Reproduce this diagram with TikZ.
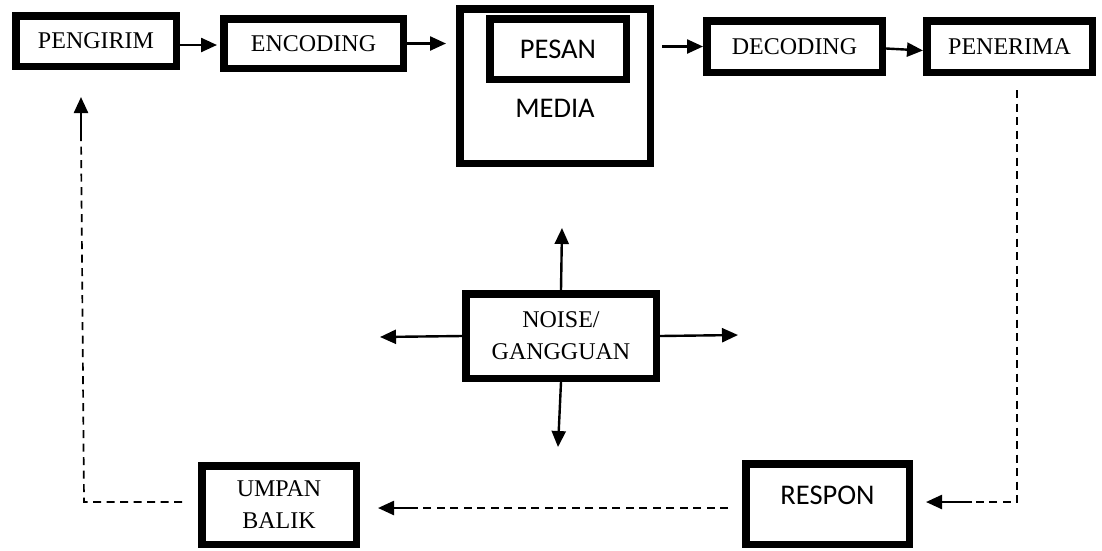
\documentclass[tikz,border=0pt]{standalone}
\usepackage{fontspec}
\setmainfont{Liberation Serif}
\newfontfamily\calib{Carlito}
\usetikzlibrary{arrows.meta}
\begin{document}
\begin{tikzpicture}[x=1pt,y=-1pt,
  box/.style={draw, line width=7.5pt, inner sep=0pt, align=center,
    font=\fontsize{24}{32}\selectfont},
  sbox/.style={box, font=\calib\fontsize{28.5}{32}\selectfont},
  arr/.style={line width=2.4pt, -{Triangle[length=16pt,width=14pt]}},
  dashline/.style={line width=1.7pt, dash pattern=on 8pt off 5.5pt},
]
\useasboundingbox (0,0) rectangle (1102,550);

% top row
\node[box, minimum width=160.5pt, minimum height=50.5pt] (pengirim) at (96,41) {PENGIRIM};
\node[box, minimum width=179.5pt, minimum height=49.5pt] (encoding) at (313.5,43.5) {ENCODING};
\node[sbox, minimum width=190.5pt, text height=108.25pt, text depth=46.25pt] (media) at (555,86) {MEDIA};
\node[sbox, minimum width=136.5pt, minimum height=60.5pt] (pesan) at (558,49) {PESAN};
\node[box, minimum width=175.5pt, minimum height=51.5pt] (decoding) at (794.5,46.5) {DECODING};
\node[box, minimum width=165.5pt, minimum height=51.5pt] (penerima) at (1009.5,46.5) {PENERIMA};

% middle
\node[box, minimum width=190.5pt, minimum height=84.5pt] (noise) at (561,336) {NOISE/\\GANGGUAN};

% bottom row
\node[box, minimum width=154.5pt, minimum height=78.5pt] (umpan) at (279,505) {UMPAN\\BALIK};
\node[sbox, minimum width=163.5pt, text height=40.25pt, text depth=40.25pt] (respon) at (827.5,504) {RESPON};

% top arrows
\draw[arr, shorten >=3pt] ([yshift=-4pt]pengirim.east) -- ([yshift=-1.5pt]encoding.west);
\draw[arr, shorten >=10pt] (encoding.east) -- (encoding.east -| media.west);
\draw[arr, shorten <=8pt] (media.east |- decoding.west) -- (decoding.west);
\draw[arr] ([yshift=-2pt]decoding.east) -- ([yshift=-4pt]penerima.west);

% noise arrows
\coordinate (nU) at (562,228);
\coordinate (nD) at (558,447);
\coordinate (nL) at (380,337);
\coordinate (nR) at (738,335);
\draw[arr] (noise.north) -- (nU);
\draw[arr] (noise.south) -- (nD);
\draw[arr] (noise.west) -- (nL);
\draw[arr] (noise.east) -- (nR);

% feedback loop
\coordinate (r1) at (1017,502);
\coordinate (r2) at (972,502);
\draw[dashline, shorten <=14pt] (penerima.south -| r1) -- (r1) -- (r2);
\draw[arr, shorten >=13pt] (r2) -- (r2 -| respon.east);

\coordinate (u1) at (415,508);
\draw[dashline, shorten <=14pt] (respon.west |- u1) -- (u1);
\draw[arr, shorten >=18pt] (u1) -- (u1 -| umpan.east);

\coordinate (p1) at (84,502);
\coordinate (p2) at (81,133);
\draw[dashline, shorten <=16pt] (umpan.west |- p1) -- (p1) -- (p2);
\draw[arr, shorten >=27pt] (p2) -- (p2 |- pengirim.south);
\end{tikzpicture}
\end{document}
